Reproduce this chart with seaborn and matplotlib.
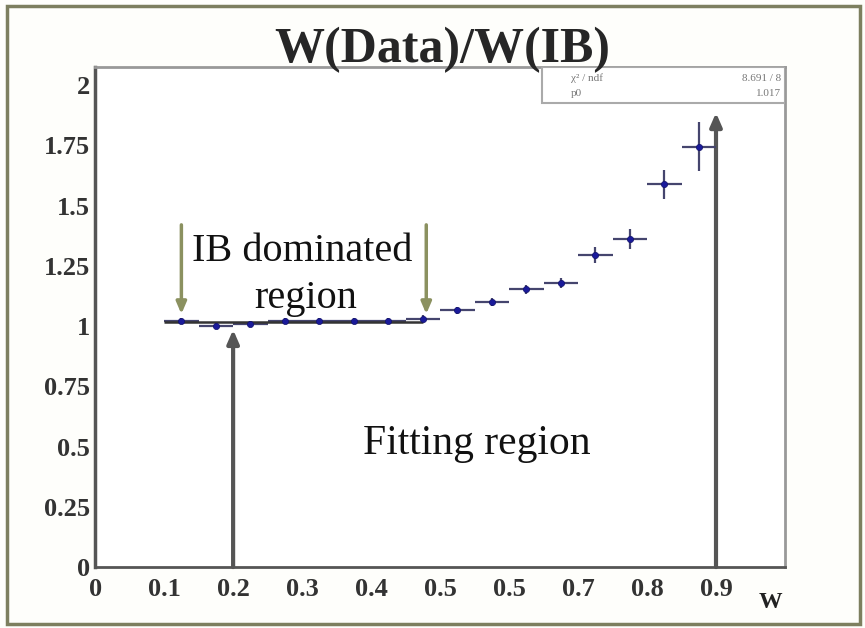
import numpy as np
import pandas as pd
import matplotlib.pyplot as plt
import seaborn as sns
from matplotlib.patches import Rectangle
from matplotlib.ticker import MultipleLocator

# ratio points W(Data)/W(IB)
w_centers = [0.125, 0.175, 0.225, 0.275, 0.325, 0.375, 0.425, 0.475,
             0.525, 0.575, 0.625, 0.675, 0.725, 0.775, 0.825, 0.875]
ratio = [1.02, 1.00, 1.01, 1.02, 1.02, 1.02, 1.02, 1.03,
         1.066, 1.10, 1.153, 1.178, 1.295, 1.361, 1.589, 1.745]
ratio_err = [0.012, 0.012, 0.012, 0.012, 0.012, 0.012, 0.012, 0.014,
             0.015, 0.016, 0.018, 0.02, 0.035, 0.04, 0.06, 0.10]
w_halfwidth = 0.025

# fit result
fit_p0 = 1.017
fit_range = [0.1, 0.475]
stat_names = ["\u03c7\u00b2 / ndf", "p0"]
stat_values = ["8.691 / 8", "1.017"]

x_ticks = [0, 0.1, 0.2, 0.3, 0.4, 0.5, 0.6, 0.7, 0.8, 0.9]
x_ticklabels = ["0", "0.1", "0.2", "0.3", "0.4", "0.5", "0.5", "0.7", "0.8", "0.9"]
y_ticks = [0, 0.25, 0.5, 0.75, 1, 1.25, 1.5, 1.75, 2]
y_ticklabels = ["0", "0.25", "0.5", "0.75", "1", "1.25", "1.5", "1.75", "2"]

df = pd.DataFrame({"w": w_centers, "ratio": ratio})

sns.set_style("white")
plt.rcParams['font.family'] = ['Liberation Serif', 'DejaVu Serif']

fig = plt.figure(figsize=(8.65, 6.28), dpi=100)
fig.patch.set_facecolor('#fefefb')
ax = fig.add_axes([0.110, 0.097, 0.7975, 0.7963])
ax.set_facecolor('white')

ax.errorbar(w_centers, ratio, yerr=ratio_err, xerr=w_halfwidth, fmt='none',
            ecolor='#45456e', elinewidth=1.6, zorder=3)
sns.scatterplot(data=df, x="w", y="ratio", ax=ax, color='#1a1a9a', s=20,
                edgecolor='#10106a', linewidth=0.5, zorder=4, legend=False)
ax.hlines(fit_p0, fit_range[0], fit_range[1], color='#333333', lw=1.8, zorder=3)

# region arrows
for xa, ytop in [(0.2, 0.985), (0.9, 1.885)]:
    ax.annotate("", xy=(xa, ytop), xytext=(xa, 0.0),
                arrowprops=dict(arrowstyle='-|>,head_width=0.35,head_length=0.8',
                                color='#555555', lw=3, shrinkA=0, shrinkB=0), zorder=2)
for xa in [0.125, 0.48]:
    ax.annotate("", xy=(xa, 1.05), xytext=(xa, 1.42),
                arrowprops=dict(arrowstyle='-|>,head_width=0.3,head_length=0.7',
                                color='#8b9160', lw=2.5, shrinkA=0, shrinkB=0), zorder=2)

ax.text(0.30, 1.31, "IB dominated", fontsize=29, ha='center', va='center', color='#111111')
ax.text(0.305, 1.115, "region", fontsize=29, ha='center', va='center', color='#111111')
ax.text(0.553, 0.51, "Fitting region", fontsize=30, ha='center', va='center', color='#111111')

ax.set_xlim(0, 1.0)
ax.set_ylim(0, 2.075)
ax.set_xticks(x_ticks)
ax.set_xticklabels(x_ticklabels)
ax.set_yticks(y_ticks)
ax.set_yticklabels(y_ticklabels)
ax.xaxis.set_minor_locator(MultipleLocator(0.02))
ax.yaxis.set_minor_locator(MultipleLocator(0.025))
ax.tick_params(which='major', direction='in', length=12, width=1.5, color='#555555',
               labelsize=19, labelcolor='#333333')
ax.tick_params(which='minor', direction='in', length=5, width=1.3, color='#555555')
ax.tick_params(axis='x', pad=8)
for lbl in ax.get_xticklabels() + ax.get_yticklabels():
    lbl.set_fontweight('bold')
ax.set_xlabel("")
ax.set_ylabel("")
for side, sp in ax.spines.items():
    sp.set_color('#999999')
    sp.set_linewidth(2)
ax.spines['left'].set_color('#555555')
ax.spines['bottom'].set_color('#555555')
ax.spines['left'].set_linewidth(2.5)

# stats box
ax.add_patch(Rectangle((0.648, 0.928), 0.352, 0.072, transform=ax.transAxes,
                       facecolor='white', edgecolor='#aaaaaa', lw=1.5, zorder=5))
for i in range(2):
    yy = 0.978 - i * 0.03
    ax.text(0.69, yy, stat_names[i], transform=ax.transAxes, fontsize=8,
            color='#777777', va='center', zorder=6)
    ax.text(0.995, yy, stat_values[i], transform=ax.transAxes, fontsize=8,
            color='#777777', va='center', ha='right', zorder=6)

fig.text(442 / 865, 1 - 50 / 628, "W(Data)/W(IB)", fontsize=36, fontweight='bold',
         ha='center', va='center')
fig.text(770 / 865, 1 - 603 / 628, "W", fontsize=17, fontweight='bold',
         ha='center', va='center', color='#222222')

fig.add_artist(Rectangle((7 / 865, 1 - 624 / 628), 853 / 865, 618 / 628,
                         transform=fig.transFigure, fill=False,
                         edgecolor='#7d7f5f', lw=2.5))

plt.savefig('out.png', dpi=100)
